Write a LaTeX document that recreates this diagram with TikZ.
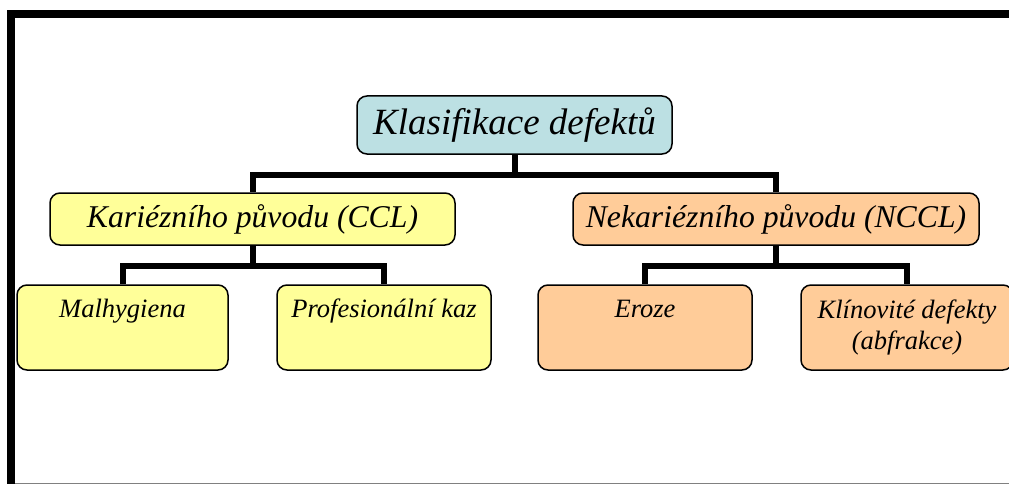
\documentclass[tikz,border=0pt]{standalone}
\usepackage{fontspec}
\setmainfont{Liberation Serif}
\usetikzlibrary{backgrounds}
\begin{document}
\begin{tikzpicture}[x=1pt,y=-1pt,
  boxbase/.style={draw=black, line width=1.5pt, rounded corners=10pt, inner sep=0pt},
  rootbox/.style={boxbase, fill=rootfill, minimum width=315pt, minimum height=58pt,
    font=\fontsize{37}{42}\selectfont\itshape},
  cclbox/.style={boxbase, fill=cclfill},
  ncclbox/.style={boxbase, fill=ncclfill},
  lvlone/.style={minimum height=52pt, font=\fontsize{31.7}{36}\selectfont\itshape},
  lvltwo/.style={minimum height=85pt},
  lbl/.style={inner sep=0pt, font=\fontsize{26.5}{31}\selectfont\itshape, align=center},
  conn/.style={line width=6pt, draw=black}
]
\definecolor{rootfill}{RGB}{188,224,227}
\definecolor{cclfill}{RGB}{255,255,153}
\definecolor{ncclfill}{RGB}{255,204,153}
\useasboundingbox (0,0) rectangle (1009,484);
\clip (0,0) rectangle (1009,484);
% frame
\draw[line width=8pt, line cap=butt] (11,490) -- (11,14) -- (1020,14);
\draw[gray, line width=1pt] (15,483.5) -- (1009,483.5);
% nodes
\node[rootbox] (root) at (514.5,125) {Klasifikace defektů};
\node[cclbox, lvlone, minimum width=405pt] (ccl) at (252.5,219) {Kariézního původu (CCL)};
\node[ncclbox, lvlone, minimum width=406pt] (nccl) at (776,219) {Nekariézního původu (NCCL)};
\node[cclbox, lvltwo, minimum width=211pt] (mal) at (122.5,327.5) {};
\node[cclbox, lvltwo, minimum width=214pt] (prof) at (384,327.5) {};
\node[ncclbox, lvltwo, minimum width=214pt] (ero) at (645,327.5) {};
\node[ncclbox, lvltwo, minimum width=212pt] (klin) at (907,327.5) {};
\node[lbl, anchor=base] (maltxt) at (122.5,317) {Malhygiena};
\node[lbl, anchor=base] (proftxt) at (384,317) {Profesionální kaz};
\node[lbl, anchor=base] (erotxt) at (645,317) {Eroze};
\node[lbl] (klintxt) at (907,327) {Klínovité defekty\\(abfrakce)};
% connectors
\begin{scope}[on background layer]
\coordinate (j0) at ([yshift=-20pt]root.south);
\draw[conn] (root.south) -- (j0) -| (ccl.north);
\draw[conn] (j0) -| (nccl.north);
\coordinate (j1) at ([yshift=-20pt]ccl.south);
\draw[conn] (ccl.south) -- (j1) -| (mal.north);
\draw[conn] (j1) -| (prof.north);
\coordinate (j2) at ([yshift=-20pt]nccl.south);
\draw[conn] (nccl.south) -- (j2) -| (ero.north);
\draw[conn] (j2) -| (klin.north);
\end{scope}
\end{tikzpicture}
\end{document}
